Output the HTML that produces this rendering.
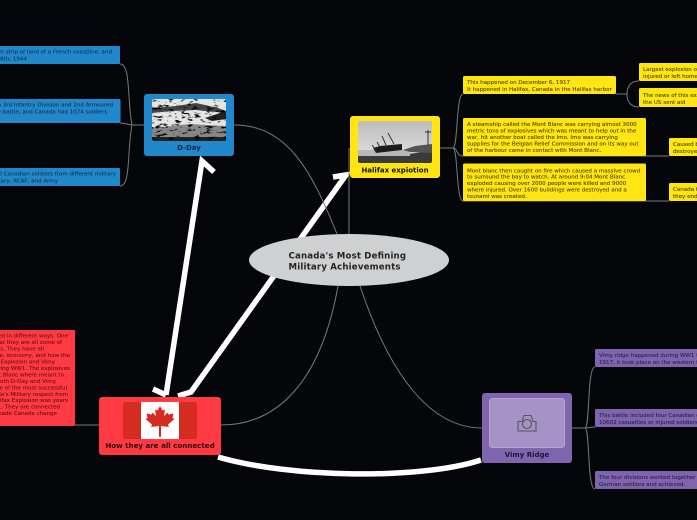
<!DOCTYPE html>
<html><head><meta charset="utf-8"><style>
html,body{margin:0;padding:0;background:#050609;width:697px;height:520px;overflow:hidden}
svg{display:block}
text{font-family:"DejaVu Sans","Liberation Sans",sans-serif}
.t{font-size:5.55px;stroke-width:.1}
.b{fill:#15324f;stroke:#15324f}.y{fill:#4e4600;stroke:#4e4600}.r{fill:#6a0f18;stroke:#6a0f18}.p{fill:#2a1f4a;stroke:#2a1f4a}
.l{font-weight:bold;font-size:7px;text-anchor:middle}
.c{fill:none;stroke:#77797c;stroke-width:1}
.w{fill:none;stroke:#fff;stroke-width:5.500}
</style></head><body>
<svg width="697" height="520" viewBox="0 0 697 520" xmlns="http://www.w3.org/2000/svg">
<defs>
<filter id="n" x="0" y="0" width="100%" height="100%"><feTurbulence type="fractalNoise" baseFrequency="0.16 0.38" numOctaves="3" seed="4"/><feColorMatrix values="0 0 0 0 0 0 0 0 0 0 0 0 0 0 0 4 4 0 0 -4.300"/></filter>
<clipPath id="cd"><rect x="152" y="99" width="74" height="42" rx="2"/></clipPath>
<clipPath id="ch"><rect x="358" y="121" width="74" height="42" rx="2"/></clipPath>
<linearGradient id="sky" x1="0" y1="0" x2="0" y2="1"><stop offset="0" stop-color="#bdbdbd"/><stop offset="1" stop-color="#e4e4e4"/></linearGradient>
</defs>
<!-- white arrows -->
<path class="w" d="M166 395L202 161L214 172"/>
<path class="w" d="M153 389L166 395"/>
<path class="w" d="M178 396L191 392L346 175L333 177"/>
<path class="w" d="M218 457C290 478 420 480 481 460"/>
<!-- center connectors -->
<path class="c" d="M234 125C288 125 312 172 337 234"/>
<path class="c" d="M349 148V234"/>
<path class="c" d="M221 425C282 425 322 375 338 286"/>
<path class="c" d="M360 286C382 352 420 428 482 428"/>
<!-- branches -->
<path class="c" d="M144 125H132M120 64C131 64 127 100 132 125C127 150 131 186 120 186M120 123C126 123 128 125 132 125"/>
<path class="c" d="M440 148H453C458 148 456 94 463 94M453 148C458 148 456 156 463 156M453 148C458 148 456 201 463 201"/>
<path class="c" d="M463 156H669M463 201H669M616 94H627M639 81C631 81 627 86 627 94C627 102 631 107 639 107"/>
<path class="c" d="M572 428H585C590 428 587 367 595 367M585 428C588 428 590 427 595 427M585 428C590 428 587 489 595 489"/>
<path class="c" d="M99 425H75"/>
<!-- center -->
<ellipse cx="349" cy="260" rx="100" ry="26" fill="#cfd0d2"/>
<text x="288.500" y="258.500" font-size="8.600" font-weight="bold" fill="#222" textLength="117.500">Canada's Most Defining</text>
<text x="288.500" y="269.500" font-size="8.600" font-weight="bold" fill="#222" textLength="112">Military Achievements</text>
<!-- D-Day -->
<rect x="144" y="94" width="90" height="62" rx="3" fill="#2288cc"/>
<g clip-path="url(#cd)"><rect x="152" y="99" width="74" height="42" fill="#e6e6e6"/>
<path d="M152 108L176 106L196 103L218 108L226 111V113L196 110L172 111L152 113Z" fill="#444"/>
<path d="M205 118L226 111V119L212 121Z" fill="#222"/>
<path d="M152 128L190 124L226 126V141H152Z" fill="#888"/>
<path d="M152 137H226V141H152Z" fill="#222"/>
<rect x="152" y="99" width="74" height="42" filter="url(#n)"/></g>
<text class="l" x="189" y="150" fill="#0f2a44">D-Day</text>
<!-- Halifax -->
<rect x="350" y="116" width="90" height="62" rx="3" fill="#ffe511"/>
<g clip-path="url(#ch)"><rect x="358" y="121" width="74" height="42" fill="url(#sky)"/>
<path d="M358 155H400L432 151V163H358Z" fill="#3a3a3a"/>
<path d="M358 150H410V156H358Z" fill="#b8b8b8"/>
<path d="M373 148L380 146L402 144L402 150L376 153Z" fill="#1c1c1c"/>
<path d="M403 150L415 146L432 144V153L410 152Z" fill="#555"/>
<path d="M372 145L376 150M377 142L380 147M382 136L386 145M388 133L394 144M428 130V146" stroke="#333" stroke-width="1" fill="none"/>
<path d="M425 132H431" stroke="#333" stroke-width="1"/></g>
<text x="395" y="172.500" font-size="7" font-weight="bold" text-anchor="middle" fill="#111">Halifax expiotion</text>
<!-- How -->
<rect x="99" y="397" width="122" height="58" rx="3" fill="#ff3a42"/>
<rect x="123" y="402" width="74" height="37" rx="2" fill="#d62b20"/>
<rect x="141" y="402" width="38" height="37" fill="#fff"/>
<path d="M160 406L162.500 410.500L165 409.500L164 416L167.500 412.500L168.500 414.500L173.500 413.500L172.500 418L174.500 419L168 424.500L169 427L161 426V437H159V426L151 427L152 424.500L145.500 419L147.500 418L146.500 413.500L151.500 414.500L152.500 412.500L156 416L155 409.500L157.500 410.500Z" fill="#d62b20"/>
<text x="160" y="448" font-size="7.100" font-weight="bold" text-anchor="middle" fill="#2a0a10">How they are all connected</text>
<!-- Vimy -->
<rect x="482" y="393" width="90" height="70" rx="3" fill="#7f65ad"/>
<rect x="489.500" y="398.500" width="75" height="49" rx="3" fill="#a593c6" stroke="#b5a6d0" stroke-width="1"/>
<g fill="none" stroke="#55555f" stroke-width="1.100"><path d="M518 431V421.500H522L524 415.500H531L533 421.500H536V431Z"/><circle cx="527" cy="424" r="4.500"/></g>
<text class="l" x="527" y="457" fill="#1e1638">Vimy Ridge</text>
<!-- Blue -->
<g fill="#2288cc"><rect x="-5" y="46" width="125" height="18" rx="1"/><rect x="-5" y="99" width="125.500" height="24" rx="1"/><rect x="-5" y="168" width="125" height="18" rx="1"/></g>
<g class="t b" text-anchor="end">
<text x="112" y="53.500">D-Day was an attack on a 50 km strip of land of a French coastline, and</text>
<text x="27" y="60.500">June 6th, 1944</text>
<text x="113" y="106.500">The Canadian 3rd Infantry Division and 2nd Armoured</text>
<text x="107" y="113.500">Brigade were in the battle, and Canada had 1074 soldiers</text>
<text x="116" y="175.500">There were 14,000 Canadian soldiers from different military</text>
<text x="58" y="182.500">branches: Military, RCAF, and Army</text>
</g>
<!-- Yellow -->
<g fill="#ffe511"><rect x="463" y="76" width="153" height="18" rx="1.500"/><rect x="463" y="118" width="183" height="38" rx="1.500"/><rect x="463" y="163.500" width="183" height="37.500" rx="1.500"/><rect x="639" y="63" width="70" height="18" rx="1.500"/><rect x="639" y="88" width="70" height="19" rx="1.500"/><rect x="669" y="138" width="40" height="18" rx="1.500"/><rect x="669" y="183" width="40" height="18" rx="1.500"/></g>
<g class="t y">
<text x="467" y="84">This happened on December 6, 1917</text>
<text x="467" y="91">It happened in Halifax, Canada in the Halifax harbor</text>
<text x="467" y="126">A steamship called the Mont Blanc was carrying almost 3000</text>
<text x="467" y="132.500">metric tons of explosives which was meant to help out in the</text>
<text x="467" y="139">war, hit another boat called the Imo. Imo was carrying</text>
<text x="467" y="145.500">supplies for the Belgian Relief Commission and on its way out</text>
<text x="467" y="152">of the harbour came in contact with Mont Blanc.</text>
<text x="467" y="172.500">Mont blanc then caught on fire which caused a massive crowd</text>
<text x="467" y="178.500">to surround the bay to watch. At around 9:04 Mont Blanc</text>
<text x="467" y="185">exploded causing over 2000 people were killed and 9000</text>
<text x="467" y="191.500">where injured. Over 1600 buildings were destroyed and a</text>
<text x="467" y="198">tsunami was created.</text>
<text x="643" y="71">Largest explosion of its time</text>
<text x="643" y="78">injured or left homeless</text>
<text x="643" y="97">The news of this explosion</text>
<text x="643" y="104">the US sent aid</text>
<text x="673" y="146">Caused by</text>
<text x="673" y="153">destroyed</text>
<text x="673" y="191">Canada to</text>
<text x="673" y="198">they ended</text>
</g>
<!-- Red -->
<rect x="-5" y="330" width="80" height="96" rx="1" fill="#ff3a42"/>
<g class="t r" text-anchor="end">
<text x="68" y="337.500">They are connected in different ways. One</text>
<text x="62" y="344">way is that they are all some of</text>
<text x="44" y="350.500">Canada's events. They have all</text>
<text x="70" y="357">changed culture, economy, and how the</text>
<text x="55" y="363.500">The Halifax Explosion and Vimy</text>
<text x="70" y="370">Ridge were during WW1. The explosives</text>
<text x="64" y="376.500">on the Mont Blanc where meant to</text>
<text x="56" y="383">help out in both D-Day and Vimy</text>
<text x="67" y="389.500">were some of the most successful</text>
<text x="68" y="396">gained Canada's Military respect from</text>
<text x="68" y="402">The Halifax Explosion was years</text>
<text x="60" y="408.500">before WW1. They are connected</text>
<text x="57" y="415">because they made Canada change</text>
</g>
<!-- Purple -->
<g fill="#7f65ad"><rect x="595" y="349" width="110" height="18" rx="1.500"/><rect x="595" y="409" width="110" height="18" rx="1.500"/><rect x="595" y="471" width="110" height="18" rx="1.500"/></g>
<g class="t p">
<text x="599" y="357">Vimy ridge happened during WW1 from April 9 to April 12,</text>
<text x="599" y="364">1917, it took place on the western front</text>
<text x="599" y="417">This battle included four Canadian divisions, there were</text>
<text x="599" y="424">10602 casualties or injured soldiers</text>
<text x="599" y="479">The four divisions worked together to defeat</text>
<text x="599" y="486">German soldiers and achieved.</text>
</g>
</svg>
</body></html>
